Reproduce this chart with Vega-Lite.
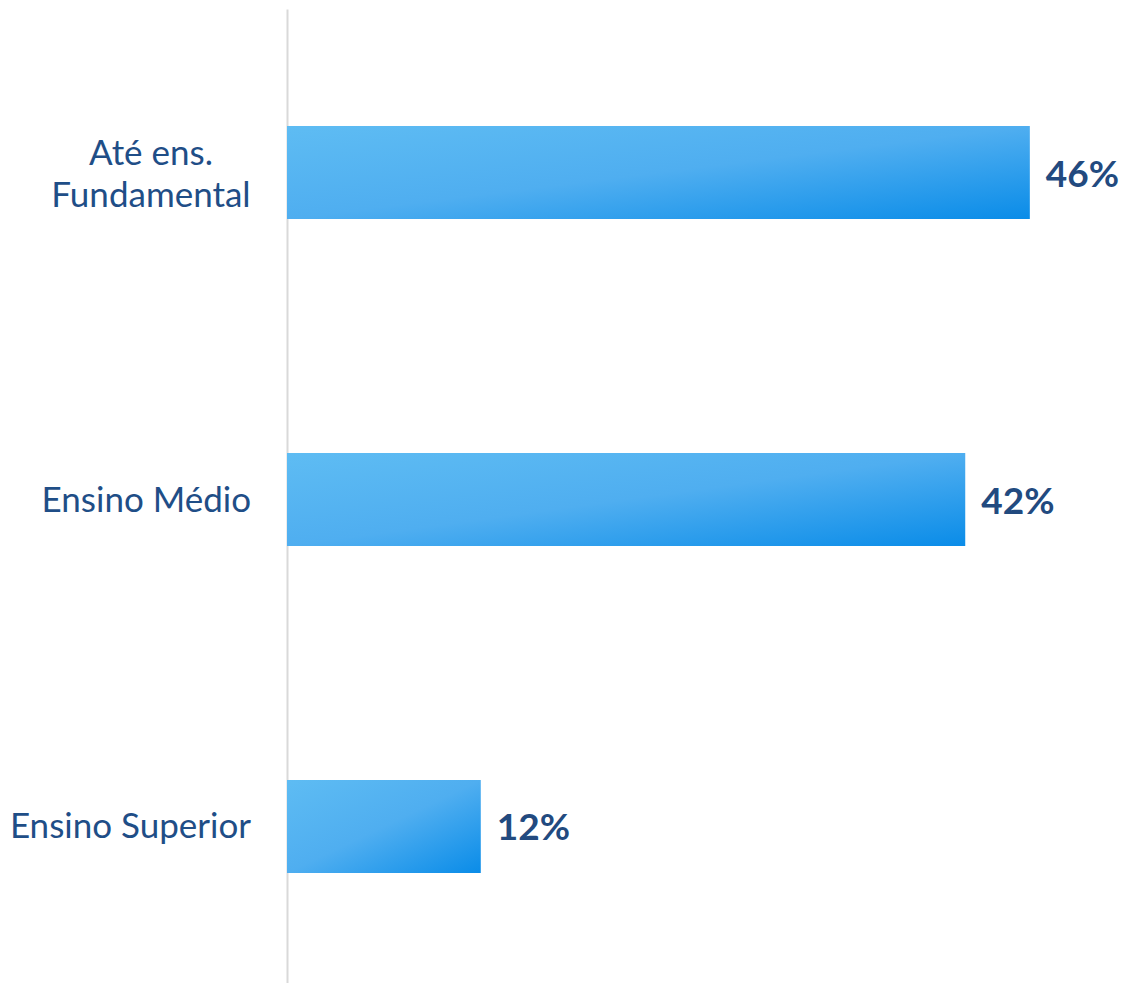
{
  "$schema": "https://vega.github.io/schema/vega-lite/v6.json",
  "autosize": "none",
  "padding": {"left": 287, "top": 9, "right": 40, "bottom": 0},
  "width": 800,
  "height": 981,
  "background": "white",
  "config": {"view": {"stroke": null}, "font": "Lato"},
  "data": {"values": [
    {"category": "Até ens.|Fundamental", "value": 46, "label": "46%", "multiline": true},
    {"category": "Ensino Médio", "value": 42, "label": "42%", "multiline": false},
    {"category": "Ensino Superior", "value": 12, "label": "12%", "multiline": false}
  ]},
  "encoding": {
    "y": {
      "field": "category", "type": "nominal", "sort": null,
      "scale": {"paddingInner": 0.7156, "paddingOuter": 0.358},
      "axis": {
        "title": null, "ticks": false, "labels": false, "domain": true, "domainColor": "#d9d9d9", "domainWidth": 2
      }
    },
    "x": {
      "field": "value", "type": "quantitative",
      "scale": {"domain": [0, 49.54], "nice": false},
      "axis": null
    }
  },
  "layer": [
    {
      "mark": {
        "type": "bar",
        "color": {
          "gradient": "linear", "x1": 0, "y1": 0, "x2": 1, "y2": 1,
          "stops": [
            {"offset": 0, "color": "#5EBCF3"},
            {"offset": 0.5, "color": "#4FAEF0"},
            {"offset": 1, "color": "#0A8CE8"}
          ]
        }
      }
    },
    {
      "mark": {"type": "text", "align": "left", "baseline": "middle", "dx": 16, "dy": 3, "font": "Lato", "fontSize": 37, "fontWeight": "bold", "color": "#224A7F"},
      "encoding": {"text": {"field": "label"}}
    },
    {
      "transform": [{"filter": "datum.multiline"}],
      "mark": {"type": "text", "align": "center", "baseline": "middle", "dx": -136, "dy": -19, "lineBreak": "|", "lineHeight": 42, "font": "Lato", "fontSize": 35, "color": "#1F4E87"},
      "encoding": {"x": {"datum": 0, "type": "quantitative"}, "text": {"field": "category"}}
    },
    {
      "transform": [{"filter": "!datum.multiline"}],
      "mark": {"type": "text", "align": "right", "baseline": "middle", "dx": -36, "dy": 1, "font": "Lato", "fontSize": 35, "color": "#1F4E87"},
      "encoding": {"x": {"datum": 0, "type": "quantitative"}, "text": {"field": "category"}}
    }
  ]
}
